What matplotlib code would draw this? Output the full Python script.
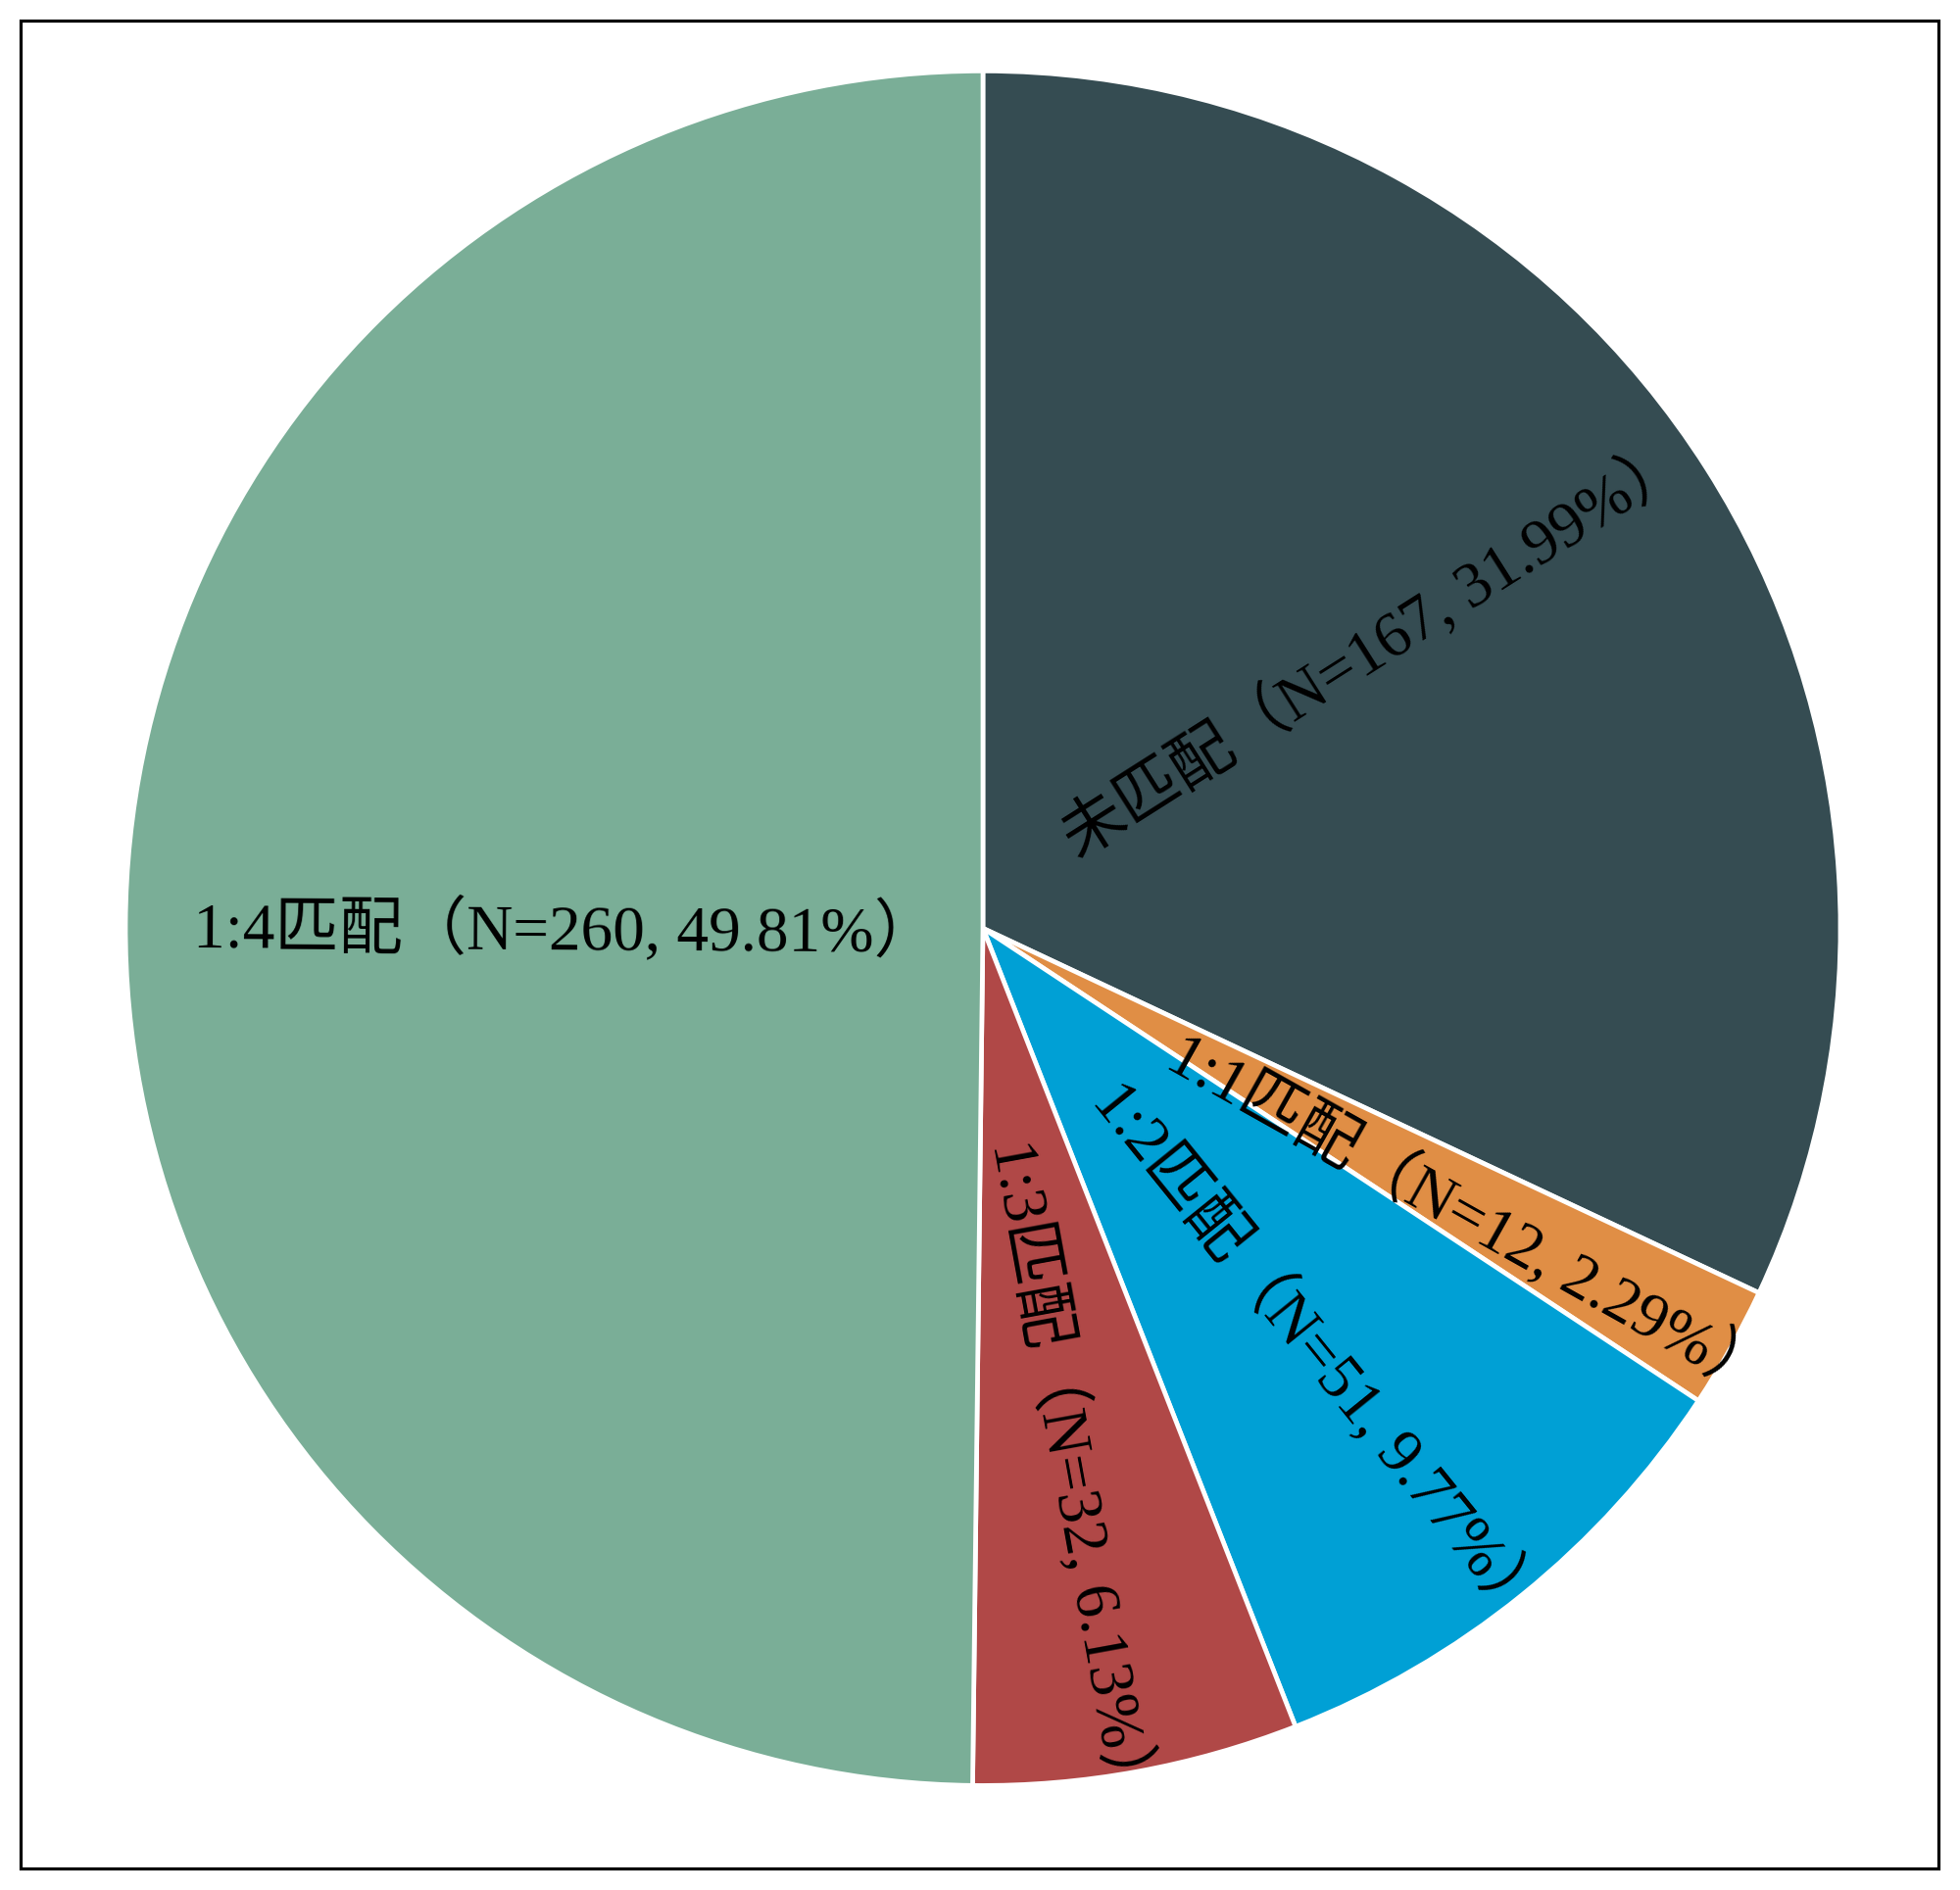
import numpy as np
import matplotlib
matplotlib.use("Agg")
import matplotlib.pyplot as plt
from matplotlib.patches import Rectangle

plt.rcParams['font.family'] = ['Liberation Serif', 'Noto Sans CJK SC', 'DejaVu Sans']

# ---- data ----
categories = ['未匹配', '1:1匹配', '1:2匹配', '1:3匹配', '1:4匹配']
counts = [167, 12, 51, 32, 260]
percent_labels = ['31.99%', '2.29%', '9.77%', '6.13%', '49.81%']
colors = ['#354C52', '#E08E45', '#00A0D5', '#B04847', '#7AAE97']

# label centre positions (fraction of radius, relative to pie centre)
label_xy = [(0.457, 0.325), (0.567, -0.337), (0.392, -0.497), (0.104, -0.638), (-0.487, -0.003)]

W, H = 2000, 1929
fig = plt.figure(figsize=(W / 100, H / 100), dpi=100)
fig.patch.set_facecolor('white')

# pie centre at (1003, 947.4 from top), radius 875 px
R = 875
cx, cy = 1003, H - 947.4
ax = fig.add_axes([(cx - R) / W, (cy - R) / H, 2 * R / W, 2 * R / H])
ax.axis('off')

wedges, _ = ax.pie(counts, colors=colors, startangle=90, counterclock=False,
                   radius=1.0, center=(0, 0), frame=False,
                   wedgeprops=dict(edgecolor='white', linewidth=3.4))
ax.set_xlim(-1, 1)
ax.set_ylim(-1, 1)
ax.set_aspect('auto')

for w, cat, n, p, (x, y) in zip(wedges, categories, counts, percent_labels, label_xy):
    mid = (w.theta1 + w.theta2) / 2
    rot = mid
    if np.cos(np.deg2rad(mid)) < 0:
        rot += 180
    rot = (rot + 180) % 360 - 180
    ax.text(x, y, f'{cat}（N={n}, {p}）', ha='center', va='center',
            rotation=rot, rotation_mode='anchor', fontsize=47, color='black')

# outer frame
fig.patches.append(Rectangle((21 / W, (H - 1907) / H), (1978 - 21) / W, (1907 - 21) / H,
                             transform=fig.transFigure, fill=False,
                             edgecolor='black', linewidth=2.3, zorder=10))

fig.savefig('out.png', dpi=100, facecolor='white')
